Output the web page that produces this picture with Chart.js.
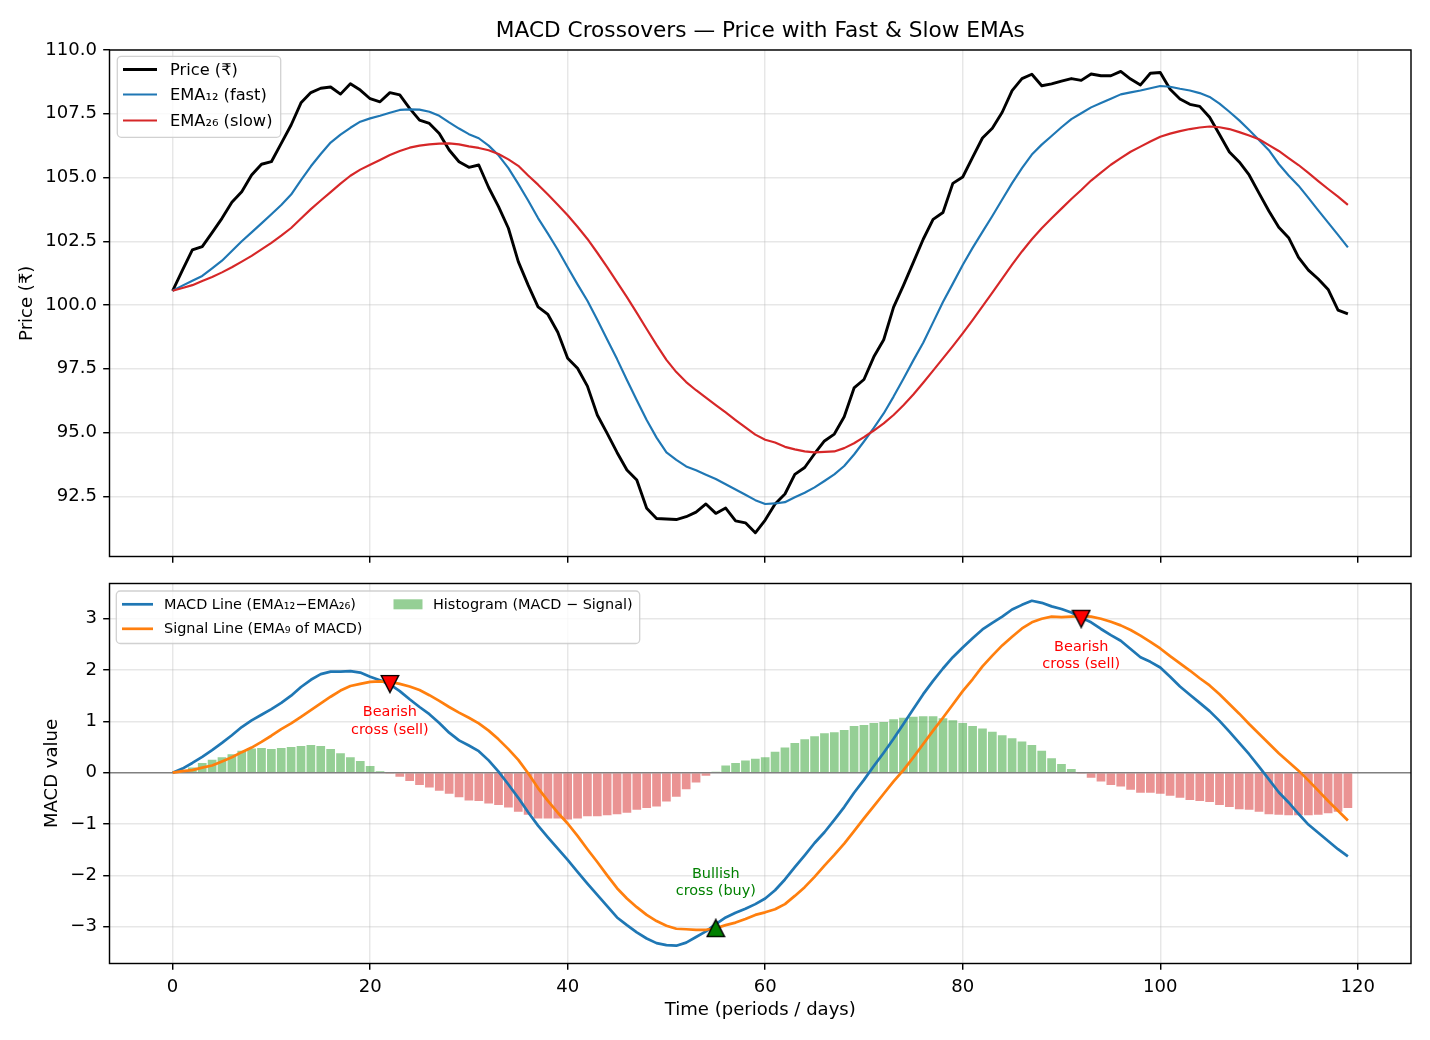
<!DOCTYPE html>
<html>
<head>
<meta charset="utf-8">
<script src="https://cdn.jsdelivr.net/npm/chart.js@4.4.1/dist/chart.umd.min.js"></script>
<style>
html,body{margin:0;padding:0;background:#fff;}
#wrap{position:relative;width:1430px;height:1040px;overflow:hidden;}
canvas{position:absolute;left:0;}
#c1{top:0;}
#c2{top:570px;}
</style>
</head>
<body>
<div id="wrap">
<canvas id="c1" width="1430" height="570"></canvas>
<canvas id="c2" width="1430" height="470"></canvas>
</div>
<script>
// ---------------- DATA ----------------
const periods = [0,1,2,3,4,5,6,7,8,9,10,11,12,13,14,15,16,17,18,19,20,21,22,23,24,25,26,27,28,29,
30,31,32,33,34,35,36,37,38,39,40,41,42,43,44,45,46,47,48,49,50,51,52,53,54,55,56,57,58,59,
60,61,62,63,64,65,66,67,68,69,70,71,72,73,74,75,76,77,78,79,80,81,82,83,84,85,86,87,88,89,
90,91,92,93,94,95,96,97,98,99,100,101,102,103,104,105,106,107,108,109,110,111,112,113,114,115,116,117,118,119];

const price = [100.56,101.37,102.16,102.29,102.84,103.40,104.03,104.44,105.10,105.52,
105.62,106.34,107.06,107.93,108.33,108.50,108.55,108.27,108.68,108.43,
108.09,107.97,108.33,108.24,107.71,107.25,107.12,106.73,106.08,105.62,
105.40,105.49,104.61,103.86,103.01,101.70,100.78,99.93,99.63,98.93,
97.91,97.52,96.82,95.69,94.97,94.22,93.53,93.14,92.03,91.63,
91.61,91.59,91.70,91.88,92.20,91.83,92.04,91.54,91.46,91.07,
91.57,92.20,92.59,93.36,93.63,94.17,94.67,94.94,95.62,96.75,
97.08,97.97,98.64,99.92,100.77,101.67,102.58,103.36,103.63,104.77,
105.02,105.79,106.55,106.93,107.56,108.41,108.88,109.05,108.60,108.67,
108.78,108.88,108.81,109.06,108.99,108.99,109.16,108.86,108.63,109.09,
109.12,108.46,108.08,107.87,107.79,107.36,106.69,106.00,105.61,105.10,
104.39,103.69,103.05,102.64,101.87,101.37,101.02,100.61,99.80,99.65];

const ema12 = [100.56,100.76,100.95,101.14,101.44,101.74,102.12,102.50,102.85,103.20,
103.56,103.92,104.33,104.90,105.44,105.92,106.37,106.68,106.95,107.19,
107.32,107.42,107.54,107.65,107.67,107.66,107.58,107.42,107.16,106.92,
106.70,106.54,106.25,105.87,105.37,104.75,104.10,103.41,102.80,102.17,
101.48,100.81,100.17,99.42,98.65,97.88,97.06,96.27,95.49,94.80,
94.22,93.93,93.67,93.52,93.35,93.18,92.97,92.77,92.56,92.35,
92.20,92.22,92.27,92.46,92.64,92.85,93.10,93.36,93.69,94.14,
94.65,95.18,95.75,96.41,97.11,97.83,98.52,99.32,100.12,100.84,
101.57,102.24,102.87,103.49,104.14,104.78,105.37,105.90,106.29,106.63,
106.97,107.29,107.52,107.75,107.92,108.09,108.26,108.34,108.41,108.50,
108.59,108.56,108.48,108.41,108.31,108.16,107.90,107.58,107.24,106.86,
106.47,106.07,105.53,105.08,104.68,104.20,103.71,103.23,102.75,102.26];

const ema26 = [100.56,100.67,100.78,100.94,101.10,101.28,101.48,101.70,101.93,102.18,
102.44,102.72,103.02,103.39,103.76,104.10,104.43,104.76,105.07,105.31,
105.50,105.69,105.88,106.04,106.17,106.25,106.30,106.33,106.34,106.30,
106.22,106.16,106.07,105.92,105.71,105.46,105.08,104.72,104.33,103.93,
103.52,103.07,102.59,102.05,101.49,100.90,100.31,99.69,99.06,98.44,
97.85,97.37,96.98,96.66,96.37,96.08,95.79,95.49,95.20,94.92,
94.72,94.61,94.44,94.34,94.26,94.22,94.24,94.26,94.39,94.58,
94.82,95.08,95.36,95.69,96.07,96.49,96.95,97.43,97.91,98.39,
98.89,99.41,99.95,100.49,101.04,101.58,102.10,102.58,103.01,103.40,
103.78,104.16,104.51,104.88,105.19,105.50,105.76,106.01,106.21,106.41,
106.60,106.72,106.82,106.90,106.96,107.00,106.97,106.90,106.78,106.65,
106.50,106.27,106.04,105.76,105.49,105.18,104.86,104.55,104.25,103.93];

const macd = [0.00,0.08,0.19,0.31,0.44,0.58,0.73,0.89,1.02,1.13,
1.24,1.36,1.50,1.67,1.81,1.92,1.97,1.97,1.98,1.95,
1.87,1.80,1.72,1.59,1.43,1.28,1.14,0.97,0.78,0.63,
0.53,0.42,0.24,0.02,-0.23,-0.49,-0.77,-1.03,-1.26,-1.48,
-1.70,-1.93,-2.16,-2.38,-2.60,-2.82,-2.97,-3.11,-3.23,-3.32,
-3.36,-3.37,-3.31,-3.20,-3.09,-2.95,-2.82,-2.73,-2.65,-2.56,
-2.45,-2.29,-2.08,-1.84,-1.61,-1.37,-1.16,-0.92,-0.67,-0.39,
-0.14,0.13,0.39,0.66,0.95,1.24,1.53,1.79,2.03,2.25,
2.44,2.62,2.79,2.92,3.04,3.18,3.27,3.35,3.31,3.24,
3.19,3.12,3.02,2.93,2.80,2.68,2.57,2.41,2.25,2.16,
2.05,1.87,1.68,1.52,1.36,1.20,1.01,0.80,0.58,0.36,
0.12,-0.13,-0.38,-0.58,-0.80,-1.01,-1.17,-1.33,-1.49,-1.63];

const signal = [0.00,0.03,0.05,0.10,0.14,0.22,0.30,0.40,0.49,0.60,
0.72,0.85,0.96,1.09,1.22,1.35,1.48,1.60,1.69,1.73,
1.77,1.78,1.77,1.73,1.68,1.61,1.51,1.40,1.28,1.17,
1.07,0.96,0.82,0.65,0.46,0.25,-0.01,-0.30,-0.55,-0.78,
-0.99,-1.23,-1.49,-1.74,-2.00,-2.25,-2.45,-2.62,-2.77,-2.89,
-2.98,-3.04,-3.05,-3.06,-3.06,-3.03,-2.97,-2.92,-2.85,-2.77,
-2.72,-2.66,-2.56,-2.40,-2.23,-2.03,-1.81,-1.60,-1.38,-1.14,
-0.89,-0.65,-0.41,-0.17,0.05,0.30,0.56,0.82,1.07,1.33,
1.59,1.82,2.07,2.28,2.48,2.65,2.81,2.93,3.00,3.04,
3.03,3.04,3.05,3.04,3.00,2.94,2.87,2.78,2.67,2.55,
2.42,2.27,2.13,1.99,1.84,1.70,1.53,1.34,1.15,0.95,
0.76,0.57,0.38,0.21,0.04,-0.15,-0.35,-0.55,-0.74,-0.93];

const hist = [0.00,0.05,0.10,0.19,0.25,0.30,0.36,0.43,0.47,0.48,
0.46,0.48,0.50,0.52,0.54,0.52,0.46,0.38,0.30,0.23,
0.13,0.03,-0.01,-0.08,-0.16,-0.24,-0.29,-0.35,-0.41,-0.48,
-0.54,-0.55,-0.60,-0.63,-0.68,-0.76,-0.82,-0.89,-0.89,-0.89,
-0.91,-0.89,-0.85,-0.85,-0.83,-0.81,-0.78,-0.72,-0.69,-0.66,
-0.56,-0.47,-0.32,-0.19,-0.06,0.02,0.14,0.19,0.24,0.27,
0.30,0.41,0.49,0.58,0.65,0.71,0.77,0.79,0.83,0.91,
0.93,0.97,0.99,1.04,1.07,1.09,1.10,1.10,1.06,1.02,
0.97,0.91,0.86,0.80,0.73,0.67,0.61,0.54,0.43,0.28,
0.17,0.07,-0.01,-0.10,-0.17,-0.24,-0.27,-0.33,-0.39,-0.39,
-0.41,-0.45,-0.49,-0.53,-0.55,-0.57,-0.63,-0.67,-0.71,-0.72,
-0.76,-0.81,-0.82,-0.83,-0.83,-0.83,-0.82,-0.79,-0.76,-0.69];

const bearishX = [22, 92];
const bearishY = [1.73, 3.00];
const bullishX = [55];
const bullishY = [-3.03];

const xTicks = [0, 20, 40, 60, 80, 100, 120];
const priceTicks = [92.5, 95, 97.5, 100, 102.5, 105, 107.5, 110];
const macdTicks = [-3, -2, -1, 0, 1, 2, 3];

// ---------------- STYLE / LAYOUT ----------------
const PT = 130 / 72;
const FONT = "'DejaVu Sans', 'Noto Sans', sans-serif";
Chart.defaults.font.family = FONT;
Chart.defaults.color = '#000';
const GRID = 'rgba(176,176,176,0.3)';
const X_MIN = -6.39, X_MAX = 125.39;

const toXY = (xs, ys) => ys.map((v, i) => ({x: xs[i], y: v}));

function noPad(s) { s.paddingTop = 0; s.paddingBottom = 0; s.paddingLeft = 0; s.paddingRight = 0; }

function gridOpts() {
  return {color: GRID, lineWidth: 0.8 * PT, tickColor: '#000', offset: false,
          tickWidth: 0.8 * PT, tickLength: 3.5 * PT, drawOnChartArea: true};
}
function xScale(showLabels, h, title) {
  return {
    type: 'linear', min: X_MIN, max: X_MAX, offset: false,
    afterBuildTicks: s => { s.ticks = xTicks.map(v => ({value: v})); },
    afterFit: s => { s.height = h; noPad(s); },
    grid: gridOpts(),
    border: {display: false},
    ticks: {display: showLabels, font: {size: 10 * PT}, padding: 3.5 * PT,
            maxRotation: 0, autoSkip: false, callback: v => String(v)},
    title: title ? {display: true, text: title, font: {size: 10 * PT}, padding: {top: 0, bottom: 19}} : {display: false}
  };
}

function markerCanvas(down, fill) {
  const c = document.createElement('canvas');
  c.width = 20; c.height = 20;
  const g = c.getContext('2d');
  g.beginPath();
  if (down) { g.moveTo(1.3, 1.6); g.lineTo(18.7, 1.6); g.lineTo(10, 18.6); }
  else { g.moveTo(10, 1.4); g.lineTo(1.3, 18.4); g.lineTo(18.7, 18.4); }
  g.closePath();
  g.fillStyle = fill; g.fill();
  g.lineWidth = 1.4; g.strokeStyle = '#000'; g.lineJoin = 'miter'; g.stroke();
  return c;
}

function roundBox(ctx, x, y, w, h) {
  ctx.save();
  ctx.beginPath();
  ctx.roundRect(x, y, w, h, 4);
  ctx.fillStyle = 'rgba(255,255,255,0.8)';
  ctx.fill();
  ctx.lineWidth = 1.3;
  ctx.strokeStyle = 'rgba(204,204,204,0.9)';
  ctx.stroke();
  ctx.restore();
}

const framePlugin = {
  id: 'frame',
  afterDatasetsDraw(chart) {
    const {ctx, chartArea: a} = chart;
    ctx.save();
    ctx.strokeStyle = '#000';
    ctx.lineWidth = 0.8 * PT;
    ctx.strokeRect(a.left, a.top, a.right - a.left, a.bottom - a.top);
    ctx.restore();
  }
};

const topLegendPlugin = {
  id: 'topLegend',
  afterDraw(chart) {
    const ctx = chart.ctx;
    roundBox(ctx, 117.3, 56.3, 163.4, 81);
    const rows = [69.5, 94.5, 120.5];
    chart.data.datasets.forEach((ds, i) => {
      ctx.save();
      ctx.strokeStyle = ds.borderColor; ctx.lineWidth = ds.borderWidth;
      ctx.beginPath(); ctx.moveTo(123, rows[i]); ctx.lineTo(157, rows[i]); ctx.stroke();
      ctx.fillStyle = '#000';
      ctx.font = (9 * PT) + 'px ' + FONT;
      ctx.textBaseline = 'middle'; ctx.textAlign = 'left';
      ctx.fillText(ds.label, 170, rows[i] + 1);
      ctx.restore();
    });
  }
};

const bottomPlugin = {
  id: 'bottomExtras',
  afterDraw(chart) {
    const ctx = chart.ctx;
    const ds = chart.data.datasets;
    // legend
    roundBox(ctx, 116.3, 21, 523.4, 52.5);
    const f = (8 * PT) + 'px ' + FONT;
    const rowY = [34.3, 58.8];
    [ds[1], ds[2]].forEach((d, i) => {
      ctx.save();
      ctx.strokeStyle = d.borderColor; ctx.lineWidth = d.borderWidth;
      ctx.beginPath(); ctx.moveTo(122, rowY[i]); ctx.lineTo(153, rowY[i]); ctx.stroke();
      ctx.fillStyle = '#000'; ctx.font = f; ctx.textBaseline = 'middle'; ctx.textAlign = 'left';
      ctx.fillText(d.label, 164, rowY[i] + 0.5);
      ctx.restore();
    });
    ctx.save();
    ctx.fillStyle = 'rgba(44,160,44,0.5)';
    ctx.fillRect(393.5, 29.3, 29, 10);
    ctx.fillStyle = '#000'; ctx.font = f; ctx.textBaseline = 'middle'; ctx.textAlign = 'left';
    ctx.fillText(ds[0].label, 433, rowY[0] + 0.5);
    ctx.restore();
    // annotations
    const xs = chart.scales.x, ys = chart.scales.y;
    ctx.save();
    ctx.font = f; ctx.textAlign = 'center'; ctx.textBaseline = 'middle';
    ctx.fillStyle = '#ff0000';
    bearishX.forEach((bx, i) => {
      const px = xs.getPixelForValue(bx), py = ys.getPixelForValue(bearishY[i]);
      ctx.fillText('Bearish', px, py + 28.5);
      ctx.fillText('cross (sell)', px, py + 46);
    });
    ctx.fillStyle = '#008000';
    bullishX.forEach((bx, i) => {
      const px = xs.getPixelForValue(bx), py = ys.getPixelForValue(bullishY[i]);
      ctx.fillText('Bullish', px, py - 54);
      ctx.fillText('cross (buy)', px, py - 37);
    });
    ctx.restore();
  }
};

// ---------------- TOP CHART ----------------
new Chart(document.getElementById('c1'), {
  type: 'line',
  data: {
    datasets: [
      {label: 'Price (₹)', data: toXY(periods, price), borderColor: '#000000', borderWidth: 1.6 * PT, order: 3},
      {label: 'EMA₁₂ (fast)', data: toXY(periods, ema12), borderColor: '#1f77b4', borderWidth: 1.2 * PT, order: 2},
      {label: 'EMA₂₆ (slow)', data: toXY(periods, ema26), borderColor: '#d62728', borderWidth: 1.2 * PT, order: 1}
    ]
  },
  options: {
    responsive: false, animation: false, events: [],
    devicePixelRatio: 1,
    elements: {point: {radius: 0}, line: {tension: 0, fill: false, borderJoinStyle: 'round', borderCapStyle: 'butt'}},
    layout: {padding: {left: 0, right: 19, top: 0, bottom: 0}},
    plugins: {
      legend: {display: false}, tooltip: {enabled: false},
      title: {display: true, fullSize: false, text: 'MACD Crossovers — Price with Fast & Slow EMAs',
              font: {size: 12 * PT, weight: 'normal'}, padding: {top: 18.5, bottom: 5.5}, color: '#000'}
    },
    scales: {
      x: xScale(false, 13.5, null),
      y: {
        type: 'linear', min: 90.14, max: 110.0,
        afterBuildTicks: s => { s.ticks = priceTicks.map(v => ({value: v})); },
        afterFit: s => { s.width = 109.5; noPad(s); },
        grid: gridOpts(),
        border: {display: false},
        ticks: {font: {size: 10 * PT}, padding: 3.5 * PT, callback: v => Number(v).toFixed(1)},
        title: {display: true, text: 'Price (₹)', font: {size: 10 * PT}, padding: {top: 16.5, bottom: 0}}
      }
    }
  },
  plugins: [framePlugin, topLegendPlugin]
});

// ---------------- BOTTOM CHART ----------------
new Chart(document.getElementById('c2'), {
  type: 'line',
  data: {
    datasets: [
      {type: 'bar', label: 'Histogram (MACD − Signal)', data: toXY(periods, hist),
       backgroundColor: hist.map(v => v >= 0 ? 'rgba(44,160,44,0.5)' : 'rgba(214,39,40,0.5)'),
       borderWidth: 0, barPercentage: 0.88, categoryPercentage: 1.0, order: 4},
      {label: 'MACD Line (EMA₁₂−EMA₂₆)', data: toXY(periods, macd), borderColor: '#1f77b4', borderWidth: 1.5 * PT, order: 3},
      {label: 'Signal Line (EMA₉ of MACD)', data: toXY(periods, signal), borderColor: '#ff7f0e', borderWidth: 1.5 * PT, order: 2},
      {label: 'Bearish cross', data: toXY(bearishX, bearishY), showLine: false,
       pointStyle: markerCanvas(true, '#ff0000'), pointRadius: 9, order: 1},
      {label: 'Bullish cross', data: toXY(bullishX, bullishY), showLine: false,
       pointStyle: markerCanvas(false, '#008000'), pointRadius: 9, order: 0}
    ]
  },
  options: {
    responsive: false, animation: false, events: [],
    devicePixelRatio: 1,
    elements: {point: {radius: 0}, line: {tension: 0, fill: false, borderJoinStyle: 'round', borderCapStyle: 'butt'}},
    layout: {padding: {left: 0, right: 19, top: 13.5, bottom: 0}},
    plugins: {legend: {display: false}, tooltip: {enabled: false}, title: {display: false}},
    scales: {
      x: xScale(true, 76.5, 'Time (periods / days)'),
      y: {
        type: 'linear', min: -3.717, max: 3.686,
        afterBuildTicks: s => { s.ticks = macdTicks.map(v => ({value: v})); },
        afterFit: s => { s.width = 109.5; noPad(s); },
        grid: {color: c => (c.tick && c.tick.value === 0) ? '#808080' : GRID,
               lineWidth: 0.8 * PT, offset: false,
               tickColor: '#000', tickWidth: 0.8 * PT, tickLength: 3.5 * PT, drawOnChartArea: true},
        border: {display: false},
        ticks: {font: {size: 10 * PT}, padding: 3.5 * PT,
                callback: v => (v < 0 ? '\u2212' + Math.abs(v) : String(v))},
        title: {display: true, text: 'MACD value', font: {size: 10 * PT}, padding: {top: 41.5, bottom: 0}}
      }
    }
  },
  plugins: [framePlugin, bottomPlugin]
});
</script>
</body>
</html>
